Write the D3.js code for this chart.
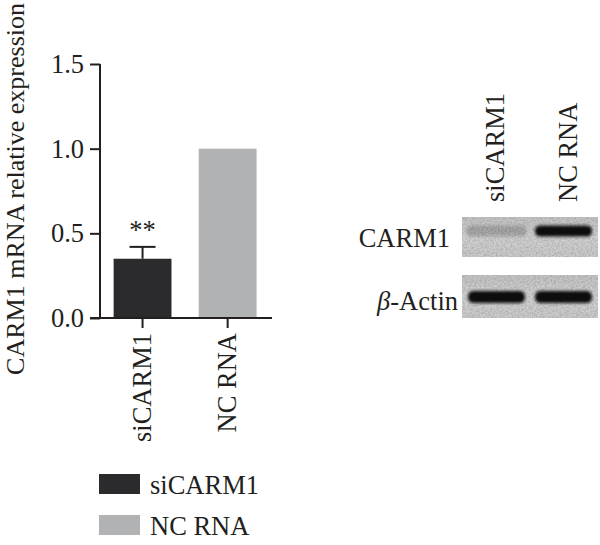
<!DOCTYPE html>
<html><head><meta charset="utf-8">
<script src="https://cdn.jsdelivr.net/npm/d3@7"></script>
<style>body{margin:0;background:#fff}svg{display:block}text{font-family:"Liberation Serif","DejaVu Serif",serif;fill:#231f20}</style>
</head><body>
<svg id="c" width="600" height="545"></svg>
<script>
// ---- data ----
const categories = ["siCARM1", "NC RNA"];
const values = [0.35, 1.0];
const errors = [0.07, 0];
const significance = ["**", ""];
const yTicks = [0.0, 0.5, 1.0, 1.5];
const yTitle = "CARM1 mRNA relative expression";
const barColors = ["#2b2a2c", "#b1b2b4"];
// western blot
const blotLanes = ["siCARM1", "NC RNA"];
const blotRows = ["CARM1", "β-Actin"];
const carm1Intensity = [0.2, 1.0];
const actinIntensity = [1.0, 1.0];

const svg = d3.select("#c");
const fs = 26.5;

// defs
const defs = svg.append("defs");
const blur = defs.append("filter").attr("id","blur").attr("x","-20%").attr("y","-60%").attr("width","140%").attr("height","220%");
blur.append("feGaussianBlur").attr("stdDeviation", 1.5);
const noise = defs.append("filter").attr("id","noise").attr("x",0).attr("y",0).attr("width","100%").attr("height","100%");
noise.append("feTurbulence").attr("type","fractalNoise").attr("baseFrequency",0.55).attr("numOctaves",2).attr("seed",5).attr("result","t");
noise.append("feColorMatrix").attr("in","t").attr("type","matrix")
  .attr("values","0 0 0 0 0  0 0 0 0 0  0 0 0 0 0  0.9 0 0 0 -0.3").attr("result","n");
noise.append("feComposite").attr("in","n").attr("in2","SourceGraphic").attr("operator","in");

// ---- bar chart ----
const y = d3.scaleLinear().domain([0, 1.5]).range([318, 64]);
const x = d3.scaleBand().domain(categories).range([100, 270.2]).paddingInner(0.32).paddingOuter(0.16);

const g = svg.append("g");
g.selectAll("rect.bar").data(categories).join("rect")
  .attr("x", d => x(d)).attr("width", x.bandwidth())
  .attr("y", (d,i) => y(values[i])).attr("height", (d,i) => y(0) - y(values[i]))
  .attr("fill", (d,i) => barColors[i]);

// error bars
categories.forEach((c,i) => {
  if (!errors[i]) return;
  const cx = x(c) + x.bandwidth()/2;
  g.append("line").attr("x1",cx).attr("x2",cx).attr("y1",y(values[i])).attr("y2",y(values[i]+errors[i])).attr("stroke","#231f20").attr("stroke-width",2);
  g.append("line").attr("x1",cx-13).attr("x2",cx+13).attr("y1",y(values[i]+errors[i])).attr("y2",y(values[i]+errors[i])).attr("stroke","#231f20").attr("stroke-width",2);
  g.append("text").attr("x",cx).attr("y",y(values[i]+errors[i]) - 8).attr("text-anchor","middle").attr("font-size",fs).text(significance[i]);
});

// y axis
const yAxis = g.append("g").attr("transform","translate(100,0)")
  .call(d3.axisLeft(y).tickValues(yTicks).tickFormat(d3.format(".1f")).tickSize(10).tickPadding(6));
yAxis.select(".domain").attr("stroke","#231f20").attr("stroke-width",2).attr("d","M0,64V318");
yAxis.selectAll(".tick line").attr("stroke","#231f20").attr("stroke-width",2);
yAxis.selectAll(".tick text").attr("font-size",fs).attr("font-family","Liberation Serif").attr("fill","#231f20");

// x axis
const xAxis = g.append("g").attr("transform","translate(0,318)")
  .call(d3.axisBottom(x).tickSize(10).tickSizeOuter(0));
xAxis.select(".domain").attr("stroke","#231f20").attr("stroke-width",2).attr("d","M90,0H272");
xAxis.selectAll(".tick line").attr("stroke","#231f20").attr("stroke-width",2);
xAxis.selectAll(".tick text").attr("font-size",fs).attr("font-family","Liberation Serif").attr("fill","#231f20")
  .attr("text-anchor","end").attr("transform","translate(0,15) rotate(-90)").attr("x",0).attr("y",0).attr("dy","0.33em");

// y title
g.append("text").attr("transform","translate(24,3) rotate(-90)").attr("font-size",26).attr("text-anchor","end").text(yTitle);

// legend
const leg = g.append("g");
categories.forEach((c,i) => {
  leg.append("rect").attr("x",99).attr("y",474 + i*41).attr("width",41).attr("height",20).attr("fill",barColors[i]);
  leg.append("text").attr("x",150).attr("y",494 + i*40.5).attr("font-size",fs).text(c);
});

// ---- western blot ----
const bx = d3.scaleBand().domain(blotLanes).range([462, 598]).paddingInner(0.05).paddingOuter(0.04);
const rowBoxes = [{y:217, h:40}, {y:275, h:43}];
const bandCy = [231, 297];
const bandH = [11, 12];
const intens = [carm1Intensity, actinIntensity];
const wb = svg.append("g");
blotRows.forEach((r,ri) => {
  const gr = defs.append("linearGradient").attr("id","bg"+ri).attr("x1",0).attr("x2",0).attr("y1",0).attr("y2",1);
  gr.append("stop").attr("offset","0%").attr("stop-color","#c4c4c4");
  gr.append("stop").attr("offset","50%").attr("stop-color","#d2d2d2");
  gr.append("stop").attr("offset","100%").attr("stop-color","#cbcbcb");
  wb.append("rect").attr("x",462).attr("y",rowBoxes[ri].y).attr("width",136).attr("height",rowBoxes[ri].h).attr("fill","url(#bg"+ri+")");
  wb.append("rect").attr("x",462).attr("y",rowBoxes[ri].y).attr("width",136).attr("height",rowBoxes[ri].h).attr("fill","#000").attr("filter","url(#noise)").attr("opacity",0.35);
  blotLanes.forEach((l,li) => {
    const v = intens[ri][li];
    const w = bx.bandwidth() * (ri===0 && li===0 ? 0.95 : 0.9);
    const cx = bx(l) + bx.bandwidth()/2;
    wb.append("rect").attr("x", cx - w/2).attr("y", bandCy[ri] - bandH[ri]/2)
      .attr("width", w).attr("height", bandH[ri]).attr("rx", 5).attr("ry", bandH[ri]/2)
      .attr("fill", "#111").attr("opacity", v).attr("filter","url(#blur)");
  });
  wb.append("text").attr("x", ri===0 ? 450 : 458).attr("y", ri===0 ? 247 : 310).attr("text-anchor","end").attr("font-size",fs)
    .html(ri===0 ? r : '<tspan font-style="italic">β</tspan>-Actin');
});
// lane labels
blotLanes.forEach((l,li) => {
  const cx = li===0 ? 495 : 568;
  wb.append("text").attr("transform",`translate(${cx},202) rotate(-90)`).attr("dy","0.33em").attr("font-size",fs).attr("text-anchor","start").text(l);
});
</script>
</body></html>
